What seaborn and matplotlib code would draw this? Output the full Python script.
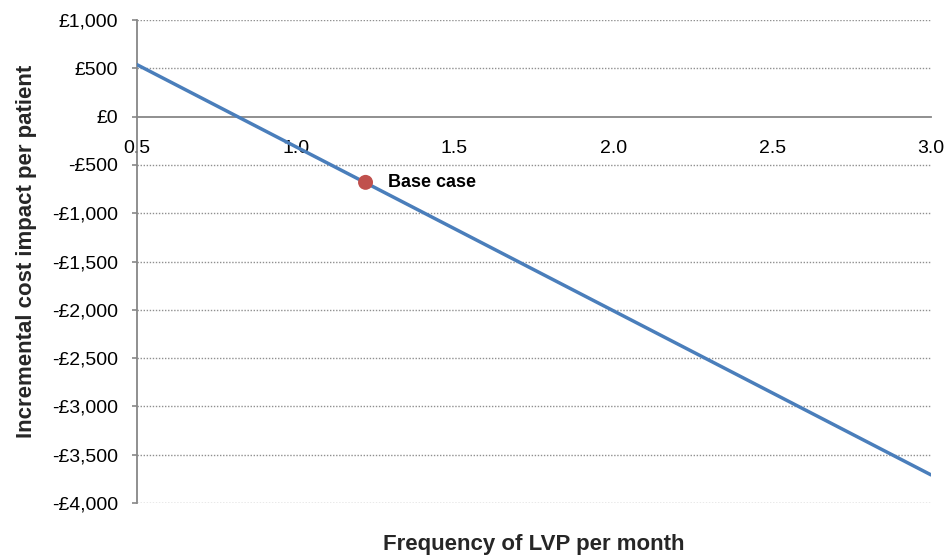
import matplotlib
matplotlib.use("Agg")
import matplotlib.pyplot as plt
import seaborn as sns
import pandas as pd
from matplotlib.ticker import FuncFormatter, MultipleLocator

sns.set_style("white")
plt.rcParams['font.family'] = ['Liberation Sans', 'DejaVu Sans']
plt.rcParams['text.color'] = 'black'
plt.rcParams['xtick.labelcolor'] = 'black'
plt.rcParams['ytick.labelcolor'] = 'black'

# === data ===
frequency = [0.5, 1.0, 1.5, 2.0, 2.5, 3.0]
cost_impact = [540, -310, -1160, -2010, -2860, -3710]
base_x = [1.22]
base_y = [-680]
base_label = "Base case"

df = pd.DataFrame({"freq": frequency, "cost": cost_impact})
base = pd.DataFrame({"freq": base_x, "cost": base_y})

fig = plt.figure(figsize=(9.5, 5.6), dpi=100)
ax = fig.add_axes([0.144, 0.102, 0.836, 0.862])

# horizontal dotted grid
for v in range(-4000, 1001, 500):
    if v != 0:
        ax.axhline(v, color="#8f8f8f", linestyle=(0, (1, 1.2)), linewidth=1.0, zorder=0)

sns.lineplot(data=df, x="freq", y="cost", ax=ax, color="#4a7ebb", linewidth=2.5, zorder=3)
sns.scatterplot(data=base, x="freq", y="cost", ax=ax, color="#c0504d", s=116,
                edgecolor="none", zorder=4)
ax.annotate(base_label, (base_x[0], base_y[0]), xytext=(16, 0), textcoords="offset points",
            ha="left", va="center", fontsize=13, fontweight="bold", color="black")

ax.set_xlim(0.5, 3.0)
ax.set_ylim(-4000, 1000)
ax.xaxis.set_major_locator(MultipleLocator(0.5))
ax.yaxis.set_major_locator(MultipleLocator(500))
ax.xaxis.set_major_formatter(FuncFormatter(lambda v, p: f"{v:.1f}"))
ax.yaxis.set_major_formatter(FuncFormatter(
    lambda v, p: f"£{int(v):,}" if v >= 0 else f"-£{int(-v):,}"))

for s in ["top", "right"]:
    ax.spines[s].set_visible(False)
ax.spines["bottom"].set_position(("data", 0))
for s in ["left", "bottom"]:
    ax.spines[s].set_color("#878787")
    ax.spines[s].set_linewidth(1.3)

ax.tick_params(axis="x", direction="in", length=3.5, color="#878787", width=1.2,
               labelsize=14, pad=17)
ax.tick_params(axis="y", direction="out", length=3.5, color="#878787", width=1.2,
               labelsize=14, pad=10, left=True)

ax.set_xlabel("Frequency of LVP per month", fontsize=16, fontweight="bold")
ax.set_ylabel("Incremental cost impact per patient", fontsize=16, fontweight="bold")
ax.xaxis.set_label_coords(0.5, -0.064)
ax.yaxis.set_label_coords(-0.126, 0.52)

fig.savefig("out.png", dpi=100)
